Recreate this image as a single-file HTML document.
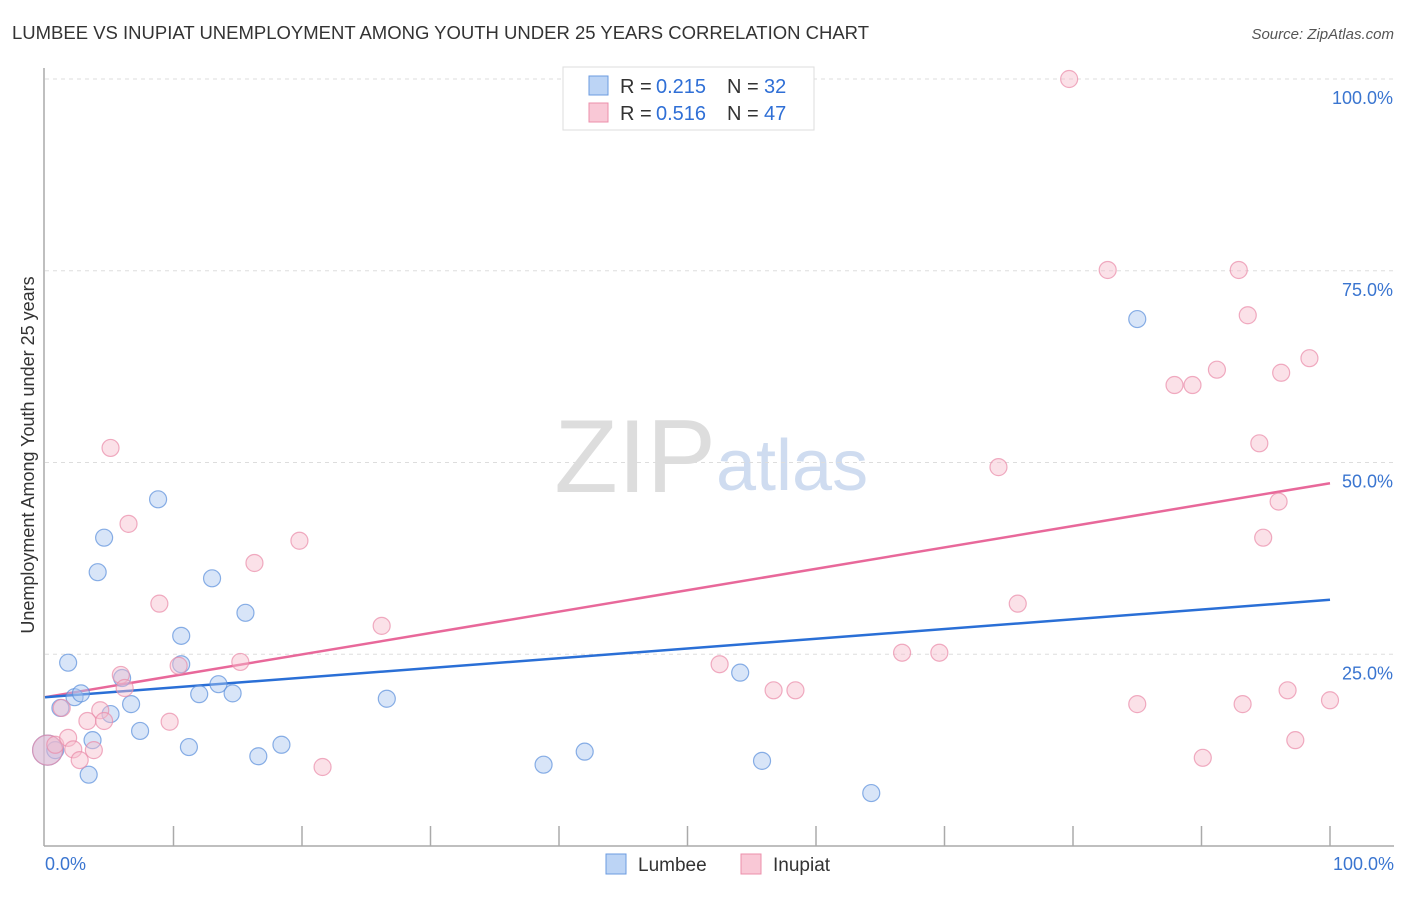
<!DOCTYPE html>
<html><head><meta charset="utf-8"><style>
body{margin:0;background:#fff;font-family:"Liberation Sans",sans-serif}
svg text{font-family:"Liberation Sans",sans-serif}
</style></head><body>
<svg width="1406" height="892">
<text x="12" y="39" font-size="18.5" fill="#333">LUMBEE VS INUPIAT UNEMPLOYMENT AMONG YOUTH UNDER 25 YEARS CORRELATION CHART</text>
<text x="1394" y="39" font-size="15" fill="#555" text-anchor="end" font-style="italic">Source: ZipAtlas.com</text>
<text x="716" y="492" font-size="104" fill="#ddd" text-anchor="end" font-family="Liberation Serif">ZIP</text>
<text x="716" y="490" font-size="72" fill="#cfdcf0">atlas</text>
<g id="grid"></g>
<g id="axes"></g>
<g id="lines"></g>
<g id="pts"></g>
<text transform="translate(34,455) rotate(-90)" font-size="18" fill="#333" text-anchor="middle">Unemployment Among Youth under 25 years</text>
<g>
<rect x="563" y="67" width="251" height="63" fill="#fff" stroke="#ddd"/>
<rect x="589" y="76" width="19" height="19" fill="#bcd4f5" stroke="#6b9be0"/>
<rect x="589" y="103" width="19" height="19" fill="#f9c8d6" stroke="#ec8fab"/>
<text x="620" y="93" font-size="20" fill="#333">R =</text>
<text x="656" y="93" font-size="20" fill="#2f6fd6">0.215</text>
<text x="727" y="93" font-size="20" fill="#333">N =</text>
<text x="764" y="93" font-size="20" fill="#2f6fd6">32</text>
<text x="620" y="120" font-size="20" fill="#333">R =</text>
<text x="656" y="120" font-size="20" fill="#2f6fd6">0.516</text>
<text x="727" y="120" font-size="20" fill="#333">N =</text>
<text x="764" y="120" font-size="20" fill="#2f6fd6">47</text>
</g>
<g>
<rect x="606" y="854" width="20" height="20" fill="#bcd4f5" stroke="#6b9be0"/>
<text x="638" y="871" font-size="19" fill="#333">Lumbee</text>
<rect x="741" y="854" width="20" height="20" fill="#f9c8d6" stroke="#ec8fab"/>
<text x="773" y="871" font-size="19" fill="#333">Inupiat</text>
</g>
</svg>
<script>
const yTicks=[25,50,75,100];
const yTickLabels=["25.0%","50.0%","75.0%","100.0%"];
const lumbeeX=[0.2,0.8,1.2,1.8,2.3,2.8,3.4,3.7,4.1,4.6,5.1,6.0,6.7,7.4,8.8,10.6,10.6,11.2,12.0,13.0,13.5,14.6,15.6,16.6,18.4,26.6,38.8,42.0,54.1,55.8,64.3,85.0];
const lumbeeY=[12.5,12.5,18.0,23.9,19.4,19.9,9.3,13.8,35.7,40.2,17.2,21.9,18.5,15.0,45.2,27.4,23.7,12.9,19.8,34.9,21.1,19.9,30.4,11.7,13.2,19.2,10.6,12.3,22.6,11.1,6.9,68.7];
const inupiatX=[0.2,0.8,1.3,1.8,2.2,2.7,3.3,3.8,4.3,4.6,5.1,5.9,6.2,6.5,8.9,9.7,10.4,15.2,16.3,19.8,21.6,26.2,52.5,56.7,58.4,66.7,69.6,74.2,75.7,79.7,82.7,85.0,87.9,89.3,90.1,91.2,92.9,93.2,93.6,94.5,94.8,96.0,96.2,96.7,97.3,98.4,100.0];
const inupiatY=[12.5,13.2,18.0,14.1,12.6,11.2,16.3,12.5,17.7,16.3,51.9,22.3,20.6,42.0,31.6,16.2,23.5,24.0,36.9,39.8,10.3,28.7,23.7,20.3,20.3,25.2,25.2,49.4,31.6,100,75.1,18.5,60.1,60.1,11.5,62.1,75.1,18.5,69.2,52.5,40.2,44.9,61.7,20.3,13.8,63.6,19.0];
const lumbeeTrend=[19.4,32.1];
const inupiatTrend=[19.4,47.3];
const NS="http://www.w3.org/2000/svg";
const sx=v=>45+v*12.85, sy=v=>846-v*7.67;
function mk(t,a,p){const e=document.createElementNS(NS,t);for(const k in a)e.setAttribute(k,a[k]);p.appendChild(e);return e;}
const grid=document.getElementById('grid'),axes=document.getElementById('axes'),lines=document.getElementById('lines'),pts=document.getElementById('pts');
yTicks.forEach((v,i)=>{
 const l=mk('line',{x1:45,x2:1394,y1:sy(v),y2:sy(v),stroke:'#ddd','stroke-dasharray':'4,4'},grid);
 
 
 const t=mk('text',{x:1393,y:sy(v)+25,'font-size':18,fill:'#3a75d0','text-anchor':'end'},grid);
 t.textContent=yTickLabels[i];
 
 
});
let a=mk('line',{x1:44,x2:44,y1:68,y2:846,stroke:'#aaa','stroke-width':1.5},axes);


a=mk('line',{x1:44,x2:1394,y1:846,y2:846,stroke:'#aaa','stroke-width':1.5},axes);


for(let i=1;i<=10;i++){const t=mk('line',{x1:sx(i*10),x2:sx(i*10),y1:826,y2:846,stroke:'#aaa','stroke-width':1.5},axes);
 
 }
let xl=mk('text',{x:45,y:870,'font-size':18,fill:'#3a75d0'},axes);xl.textContent='0.0%';


xl=mk('text',{x:1394,y:870,'font-size':18,fill:'#3a75d0','text-anchor':'end'},axes);xl.textContent='100.0%';


function series(X,Y,fill,stroke,name){X.forEach((x,i)=>{const big=(i===0);
 const c=mk('circle',{cx:sx(x),cy:sy(Y[i]),r:big?15:8.5,fill:fill,'fill-opacity':big?0.5:0.45,stroke:stroke,'stroke-width':1.2,'stroke-opacity':0.7},pts);
 
 });}
series(lumbeeX,lumbeeY,'#a8c6f0','#5a8fdc','lumbee-point');
series(inupiatX,inupiatY,'#f7bccd','#e98aa8','inupiat-point');
let tl=mk('line',{x1:sx(0),x2:sx(100),y1:sy(inupiatTrend[0]),y2:sy(inupiatTrend[1]),stroke:'#e8689a','stroke-width':2.5},lines);


tl=mk('line',{x1:sx(0),x2:sx(100),y1:sy(lumbeeTrend[0]),y2:sy(lumbeeTrend[1]),stroke:'#2a6fd6','stroke-width':2.5},lines);


</script>
</body></html>
